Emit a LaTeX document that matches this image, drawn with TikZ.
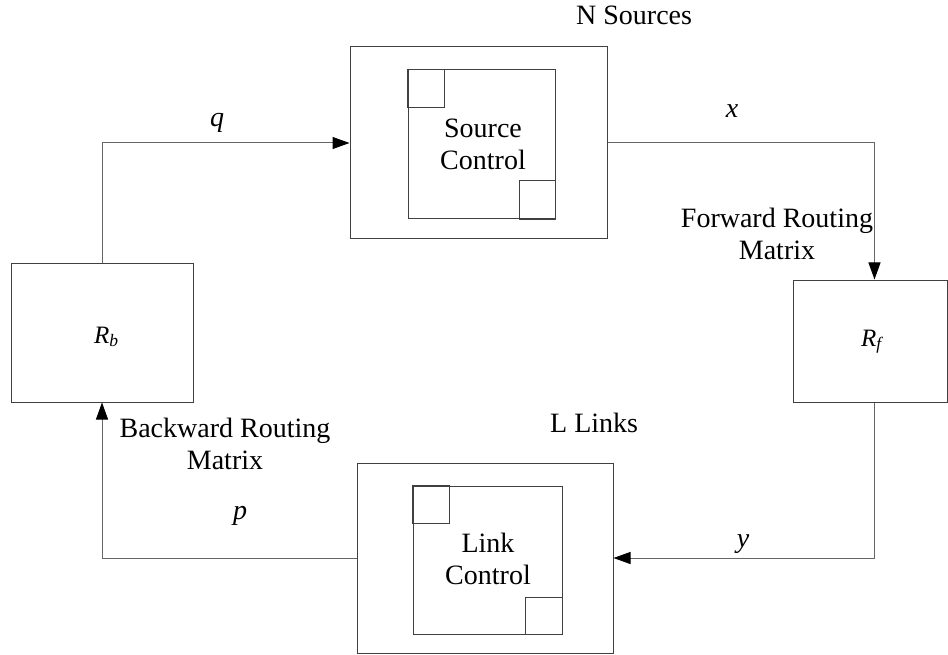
\documentclass[tikz,border=0pt]{standalone}
\usepackage{fontspec}
\setmainfont{Liberation Serif}
\usetikzlibrary{arrows.meta,calc}

\tikzset{
  box/.style={draw=black!75, line width=1pt, inner sep=0pt, minimum width=#1},
  boxh/.style={minimum height=#1},
  sq/.style={draw=black!75, line width=0.9pt},
  wire/.style={draw=black!60, line width=1pt},
  arr/.style={wire, -{Triangle[length=17pt, width=12pt, color=black, fill=black]}},
  lbl/.style={inner sep=0pt, font=\rmfamily\fontsize{28}{32}\selectfont},
  var/.style={inner sep=0pt, anchor=base, font=\rmfamily\fontsize{28}{32}\selectfont\itshape},
  rlbl/.style={inner sep=0pt, anchor=base west, font=\rmfamily\fontsize{25}{29}\selectfont\itshape},
}

\newcommand{\twolines}[2]{\begin{tabular}[t]{@{}c@{}}#1\\#2\end{tabular}}

\begin{document}
\begin{tikzpicture}[x=1pt, y=-1pt]
  \useasboundingbox (0,0) rectangle (948,655);

  % source block
  \node[box=257pt, boxh=192pt] (src) at (478.5,143) {};
  \node[box=147pt, boxh=149pt] (srcin) at (481.5,144.5) {};
  \draw[sq] (srcin.north west) rectangle ++(37,38);
  \draw[sq] (srcin.south east) rectangle ++(-36,-39);
  \node[lbl, anchor=base] (srctxt) at (483,138) {\twolines{Source}{Control}};
  \node[lbl, anchor=base west] (nsrc) at (576,25) {N Sources};

  % link block
  \node[box=256pt, boxh=190pt] (lnk) at (485,558) {};
  \node[box=149pt, boxh=148pt] (lnkin) at (487.5,560) {};
  \draw[sq] (lnkin.north west) rectangle ++(37,38);
  \draw[sq] (lnkin.south east) rectangle ++(-37,-37);
  \node[lbl, anchor=base] (lnktxt) at (488,552) {\twolines{Link}{Control}};
  \node[lbl, anchor=base west] (llinks) at (550,432) {L Links};

  % routing matrices
  \node[box=182pt, boxh=138pt] (Rb) at (102,333) {};
  \node[rlbl] (Rbtxt) at (94,343) {R\textsubscript{b}};
  \node[box=154pt, boxh=122pt] (Rf) at (870,341) {};
  \node[rlbl] (Rftxt) at (861,346) {R\textsubscript{f}};
  \node[lbl, anchor=base] (fwd) at (777,228) {\twolines{Forward Routing}{Matrix}};
  \node[lbl, anchor=base] (bwd) at (225,437) {\twolines{Backward Routing}{Matrix}};

  % feedback loop
  \draw[arr] (Rb.north) |- (src.west);
  \draw[arr] (src.east) -| ([xshift=82pt]Rf.north west);
  \draw[arr] ([xshift=82pt]Rf.south west) |- (lnk.east);
  \draw[arr] (lnk.west) -| (Rb.south);

  % signal names
  \node[var] (q) at (217,127) {q};
  \node[var] (x) at (732,118) {x};
  \node[var] (y) at (743,547) {y};
  \node[var] (p) at (240,519) {p};
\end{tikzpicture}
\end{document}
